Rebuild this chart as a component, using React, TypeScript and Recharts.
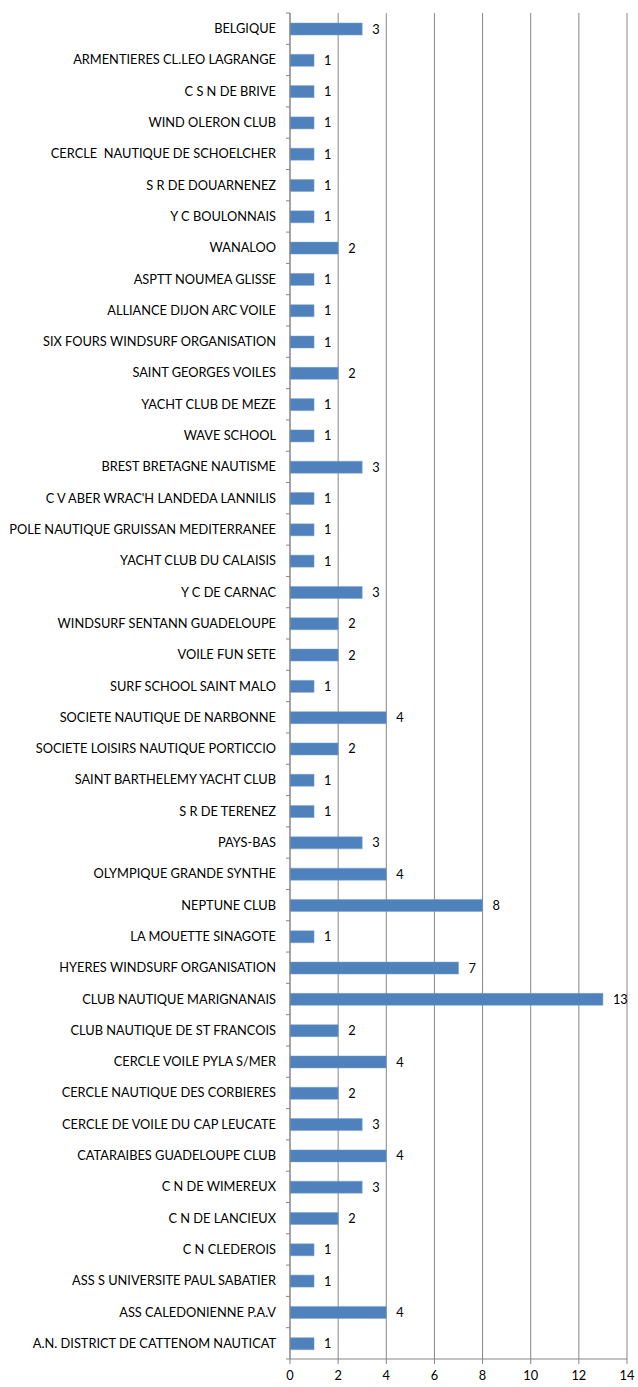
import React from "react";
import { BarChart, Bar, XAxis, YAxis, CartesianGrid, LabelList } from "recharts";

const categories = [
  "BELGIQUE",
  "ARMENTIERES CL.LEO LAGRANGE",
  "C S N DE BRIVE",
  "WIND OLERON CLUB",
  "CERCLE  NAUTIQUE DE SCHOELCHER",
  "S R DE DOUARNENEZ",
  "Y C BOULONNAIS",
  "WANALOO",
  "ASPTT NOUMEA GLISSE",
  "ALLIANCE DIJON ARC VOILE",
  "SIX FOURS WINDSURF ORGANISATION",
  "SAINT GEORGES VOILES",
  "YACHT CLUB DE MEZE",
  "WAVE SCHOOL",
  "BREST BRETAGNE NAUTISME",
  "C V ABER WRAC'H LANDEDA LANNILIS",
  "POLE NAUTIQUE GRUISSAN MEDITERRANEE",
  "YACHT CLUB DU CALAISIS",
  "Y C DE CARNAC",
  "WINDSURF SENTANN GUADELOUPE",
  "VOILE FUN SETE",
  "SURF SCHOOL SAINT MALO",
  "SOCIETE NAUTIQUE DE NARBONNE",
  "SOCIETE LOISIRS NAUTIQUE PORTICCIO",
  "SAINT BARTHELEMY YACHT CLUB",
  "S R DE TERENEZ",
  "PAYS-BAS",
  "OLYMPIQUE GRANDE SYNTHE",
  "NEPTUNE CLUB",
  "LA MOUETTE SINAGOTE",
  "HYERES WINDSURF ORGANISATION",
  "CLUB NAUTIQUE MARIGNANAIS",
  "CLUB NAUTIQUE DE ST FRANCOIS",
  "CERCLE VOILE PYLA S/MER",
  "CERCLE NAUTIQUE DES CORBIERES",
  "CERCLE DE VOILE DU CAP LEUCATE",
  "CATARAIBES GUADELOUPE CLUB",
  "C N DE WIMEREUX",
  "C N DE LANCIEUX",
  "C N CLEDEROIS",
  "ASS S UNIVERSITE PAUL SABATIER",
  "ASS CALEDONIENNE P.A.V",
  "A.N. DISTRICT DE CATTENOM NAUTICAT",
];

const values = [
  3, 1, 1, 1, 1, 1, 1, 2, 1, 1, 1, 2, 1, 1, 3, 1, 1, 1, 3, 2, 2, 1, 4, 2, 1, 1,
  3, 4, 8, 1, 7, 13, 2, 4, 2, 3, 4, 3, 2, 1, 1, 4, 1,
];

const xTicks = [0, 2, 4, 6, 8, 10, 12, 14];

const data = categories.map((name, i) => ({ name, value: values[i] }));

const FONT = "Lato, 'Liberation Sans', sans-serif";
const FS = 12.8;
const GRAY = "#868686";
const CHART_W = 638;
const CHART_H = 1387;
const TOP = 13;
const BOTTOM = 28;
const BAND = (CHART_H - TOP - BOTTOM) / categories.length;
const Y_MARGIN = 14;

const YTick = (props: any) => {
  const { x, y, payload, index } = props;
  return (
    <g>
      <line x1={x + Y_MARGIN - 4} x2={x + Y_MARGIN} y1={y - BAND / 2} y2={y - BAND / 2} stroke={GRAY} />
      {index === categories.length - 1 && (
        <line x1={x + Y_MARGIN - 4} x2={x + Y_MARGIN} y1={y + BAND / 2} y2={y + BAND / 2} stroke={GRAY} />
      )}
      <text
        x={x}
        y={y}
        dy={4.5}
        textAnchor="end"
        fill="#000"
        fontSize={FS}
        fontFamily={FONT}
        style={{ whiteSpace: "pre" }}
      >
        {payload.value}
      </text>
    </g>
  );
};

export default function App() {
  return (
    <div style={{ position: "absolute", left: 0, top: 0, width: CHART_W, height: CHART_H, background: "#fff" }}>
      <BarChart
        width={CHART_W}
        height={CHART_H}
        data={data}
        layout="vertical"
        margin={{ top: TOP, right: 11, bottom: 0, left: 0 }}
        barSize={12}
      >
        <CartesianGrid horizontal={false} vertical={true} stroke={GRAY} strokeWidth={1} />
        <XAxis
          type="number"
          domain={[0, 14]}
          ticks={xTicks}
          interval={0}
          axisLine={{ stroke: GRAY }}
          tickLine={{ stroke: GRAY }}
          tickSize={5}
          tickMargin={7}
          tick={{ fill: "#000", fontSize: FS, fontFamily: FONT }}
          height={BOTTOM}
        />
        <YAxis
          type="category"
          dataKey="name"
          width={290}
          axisLine={{ stroke: GRAY }}
          tickLine={false}
          tickSize={0}
          tickMargin={Y_MARGIN}
          interval={0}
          tick={<YTick />}
        />
        <Bar dataKey="value" fill="#4F81BD" stroke="#7BA0CD" strokeWidth={0.5} isAnimationActive={false}>
          <LabelList
            dataKey="value"
            position="right"
            offset={10}
            fill="#000"
            fontSize={FS}
            fontFamily={FONT}
          />
        </Bar>
      </BarChart>
    </div>
  );
}
